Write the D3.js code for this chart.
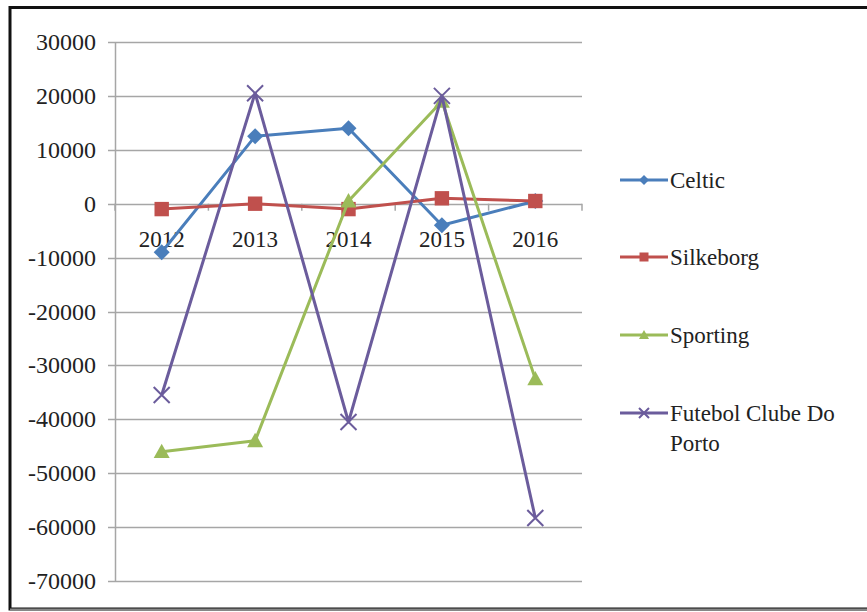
<!DOCTYPE html>
<html><head><meta charset="utf-8">
<script src="https://cdn.jsdelivr.net/npm/d3@7"></script>
<style>body{margin:0;background:#fff}svg{display:block}</style>
</head><body>
<script>
const years = ["2012","2013","2014","2015","2016"];
const celtic = [-9000, 12500, 14000, -4000, 500];
const silkeborg = [-1000, 0, -1000, 1000, 500];
const sporting = [-46000, -44000, 500, 19000, -32500];
const porto = [-35500, 20500, -40500, 20000, -58300];
const seriesNames = ["Celtic","Silkeborg","Sporting","Futebol Clube Do Porto"];
const yTicks = [30000,20000,10000,0,-10000,-20000,-30000,-40000,-50000,-60000,-70000];

const series = [
  {name: seriesNames[0], values: celtic, color: "#4a7ebb", marker: "diamond"},
  {name: seriesNames[1], values: silkeborg, color: "#c0504d", marker: "square"},
  {name: seriesNames[2], values: sporting, color: "#9bbb59", marker: "triangle"},
  {name: seriesNames[3], values: porto, color: "#6b5c9c", marker: "x"}
];

const W = 867, H = 612;
const svg = d3.select("body").append("svg").attr("width", W).attr("height", H);
svg.append("rect").attr("x",0).attr("y",0).attr("width",W).attr("height",H).attr("fill","#fff");

// frame
svg.append("rect").attr("x",10).attr("y",7.5).attr("width",W+10).attr("height",601.5)
  .attr("fill","none").attr("stroke","#111").attr("stroke-width",3);
svg.append("line").attr("x1",10).attr("x2",W).attr("y1",609.5).attr("y2",609.5).attr("stroke","#888").attr("stroke-width",2);

const left = 115, right = 582;
const x = d3.scaleBand().domain(years).range([left, right]);
const y = d3.scaleLinear().domain([-70000, 30000]).range([581, 42]);

const font = "'Liberation Serif','Times New Roman',serif";

// gridlines
svg.append("g").selectAll("line").data(yTicks).join("line")
  .attr("x1", left - 7).attr("x2", right)
  .attr("y1", d => Math.round(y(d)) + 0.5).attr("y2", d => Math.round(y(d)) + 0.5)
  .attr("stroke", "#a6a6a6").attr("stroke-width", 1.5);

// y axis line
svg.append("line").attr("x1", left+0.5).attr("x2", left+0.5).attr("y1", y(30000)).attr("y2", y(-70000))
  .attr("stroke", "#a6a6a6").attr("stroke-width", 1.5);

// y labels
svg.append("g").selectAll("text").data(yTicks).join("text")
  .attr("x", 96).attr("y", d => y(d) + 8)
  .attr("text-anchor", "end").attr("font-family", font).attr("font-size", 24)
  .attr("fill", "#222").text(d => d);

// category ticks on zero axis
const bounds = years.map(c => x(c)).concat([right]);
svg.append("g").selectAll("line").data(bounds).join("line")
  .attr("x1", d => d).attr("x2", d => d).attr("y1", y(0)).attr("y2", y(0) + 7)
  .attr("stroke", "#a6a6a6").attr("stroke-width", 1.5);

// category labels
svg.append("g").selectAll("text").data(years).join("text")
  .attr("x", d => x(d) + x.bandwidth()/2).attr("y", y(0) + 43)
  .attr("text-anchor", "middle").attr("font-family", font).attr("font-size", 23)
  .attr("fill", "#222").text(d => d);

const line = d3.line().x((d,i) => x(years[i]) + x.bandwidth()/2).y(d => y(d));

function drawMarker(g, type, cx, cy, color, s) {
  if (type === "diamond") {
    g.append("path").attr("d", `M${cx},${cy-s}L${cx+s},${cy}L${cx},${cy+s}L${cx-s},${cy}Z`).attr("fill", color);
  } else if (type === "square") {
    g.append("rect").attr("x", cx-s*0.9).attr("y", cy-s*0.9).attr("width", s*1.8).attr("height", s*1.8).attr("fill", color);
  } else if (type === "triangle") {
    g.append("path").attr("d", `M${cx},${cy-s}L${cx+s},${cy+s*0.8}L${cx-s},${cy+s*0.8}Z`).attr("fill", color);
  } else {
    g.append("path").attr("d", `M${cx-s},${cy-s}L${cx+s},${cy+s}M${cx+s},${cy-s}L${cx-s},${cy+s}`)
      .attr("stroke", color).attr("stroke-width", 2).attr("fill", "none");
  }
}

series.forEach(s => {
  const g = svg.append("g");
  g.append("path").attr("d", line(s.values)).attr("fill", "none")
    .attr("stroke", s.color).attr("stroke-width", 3).attr("stroke-linejoin", "round");
  s.values.forEach((v, i) => {
    drawMarker(g, s.marker, x(years[i]) + x.bandwidth()/2, y(v), s.color, 8);
  });
});

// legend
const legY = [180, 257, 335, 413];
series.forEach((s, i) => {
  const g = svg.append("g");
  const ly = legY[i];
  g.append("line").attr("x1", 620).attr("x2", 668).attr("y1", ly).attr("y2", ly)
    .attr("stroke", s.color).attr("stroke-width", 3);
  drawMarker(g, s.marker, 644, ly, s.color, 5);
  const t = g.append("text").attr("x", 670).attr("y", ly + 8)
    .attr("font-family", font).attr("font-size", 23).attr("fill", "#222");
  if (i === 3) {
    t.append("tspan").attr("x", 670).text("Futebol Clube Do");
    t.append("tspan").attr("x", 670).attr("dy", 30).text("Porto");
  } else {
    t.text(s.name);
  }
});
</script>
</body></html>
